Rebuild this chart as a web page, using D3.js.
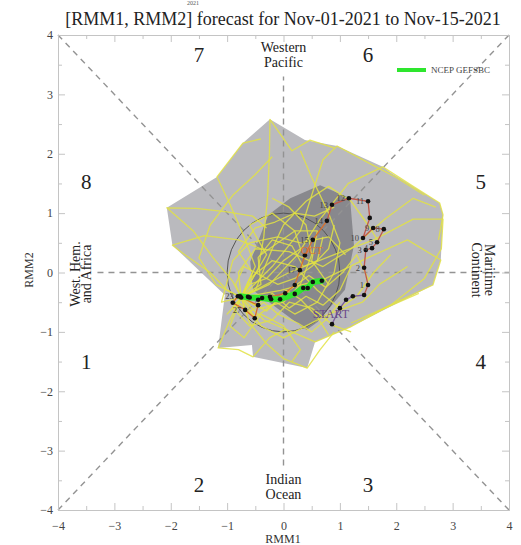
<!DOCTYPE html>
<html>
<head>
<meta charset="utf-8">
<script src="https://cdn.jsdelivr.net/npm/d3@7"></script>
<style>
body { margin: 0; background: #fff; }
text { font-family: "Liberation Serif", "DejaVu Serif", serif; }
.axis path, .axis line { stroke: #c4c4c4; }
.axis text { fill: #444; font-size: 12px; font-family: "Liberation Serif", serif; }
</style>
</head>
<body>
<div id="chart"></div>
<script>
"use strict";

/* tick values */
var majorTicks = [-4, -3, -2, -1, 0, 1, 2, 3, 4];
var minorTicks = [-3.5, -2.5, -1.5, -0.5, 0.5, 1.5, 2.5, 3.5];

/* phase numbers and where they sit */
var phaseNames = ["1", "2", "3", "4", "5", "6", "7", "8"];
var phaseSpots = [[-3.5, -1.5], [-1.5, -3.58], [1.5, -3.58], [3.5, -1.5],
                  [3.5, 1.52], [1.5, 3.66], [-1.5, 3.66], [-3.5, 1.52]];

/* shaded spread of the ensemble (outer and inner) */
var outerSpread = [[-0.24, 2.58], [0.38, 2.23], [0.95, 2.13], [1.76, 1.78], [1.89, 1.69],
                   [2.77, 1.17], [2.83, 0.97], [2.79, 0.21], [2.65, -0.21], [1.18, -0.92],
                   [0.56, -1.17], [0.42, -1.61], [-0.54, -1.42], [-0.56, -1.22], [-1.16, -1.27],
                   [-1.04, -0.38], [-1.97, 0.46], [-2.07, 1.09], [-1.18, 1.61], [-0.72, 2.18]];
var innerSpread = [[0.65, 1.47], [1.18, 1.25], [1.25, 0.46], [1.09, -0.29], [0.61, -0.83],
                   [0.41, -0.97], [-0.54, -0.30], [-0.59, 0.18], [-0.27, 0.97], [0.12, 1.25]];

/* ensemble members */
var members = [
  [[-0.75,-0.42],[-0.9,-0.15],[-1.25,0.25],[-1.6,0.7],[-2.07,1.09],[-1.55,1.08],[-1.0,1.02],[-0.55,0.95],[-0.3,0.75]],
  [[-0.75,-0.42],[-0.45,0.05],[-0.35,0.6],[-0.28,1.3],[-0.25,2.0],[-0.24,2.58],[0.15,2.05],[0.47,2.23],[0.9,2.1]],
  [[-0.75,-0.42],[-0.25,-0.2],[0.25,0.3],[0.65,0.9],[1.15,1.5],[1.76,1.78],[2.3,1.45],[2.77,1.17],[2.83,0.97],[2.75,0.55]],
  [[-0.75,-0.42],[-0.05,-0.3],[0.75,-0.1],[1.5,0.25],[2.2,0.55],[2.79,0.21],[2.65,-0.21],[2.0,-0.5],[1.5,-0.75]],
  [[-0.75,-0.42],[-0.35,-0.8],[0.15,-1.0],[0.56,-1.17],[1.18,-0.92],[1.8,-0.6],[2.4,-0.35]],
  [[-0.75,-0.42],[-0.6,-0.85],[-0.3,-1.2],[0.0,-1.45],[0.42,-1.61],[0.65,-1.3],[0.9,-1.0]],
  [[-0.75,-0.42],[-0.95,-0.8],[-1.16,-1.27],[-0.8,-1.3],[-0.54,-1.42],[-0.25,-1.1],[0.05,-0.95]],
  [[-0.75,-0.42],[-1.0,-0.3],[-1.3,0.0],[-1.75,0.3],[-1.97,0.46],[-1.4,0.62],[-0.8,0.55],[-0.4,0.4]],
  [[-0.75,-0.42],[-0.5,0.1],[-0.7,0.6],[-0.95,1.15],[-1.18,1.61],[-0.72,2.18],[-0.4,2.25]],
  [[-0.75,-0.42],[-0.4,-0.6],[0.0,-0.5],[0.3,-0.2],[0.5,0.3],[0.4,0.8],[0.1,1.1],[-0.2,1.25]],
  [[-0.75,-0.42],[-0.6,-0.1],[-0.2,0.2],[0.2,0.1],[0.6,-0.3],[1.0,-0.6],[1.3,-0.4],[1.6,0.0],[1.9,0.3]],
  [[-0.75,-0.42],[-0.9,-0.6],[-0.6,-0.9],[-0.2,-0.8],[0.1,-0.5],[0.5,-0.6],[0.9,-0.9],[1.2,-1.0]],
  [[-0.75,-0.42],[-0.5,-0.3],[-0.2,0.4],[0.0,0.8],[0.4,1.2],[0.8,1.45],[1.2,1.2],[1.5,0.8],[1.7,0.5]],
  [[-0.75,-0.42],[-1.1,-0.5],[-0.9,0.2],[-0.6,0.5],[-0.1,0.6],[0.3,0.5],[0.8,0.6],[1.1,0.3]],
  [[-0.75,-0.42],[-0.3,-0.4],[0.2,-0.7],[0.6,-0.5],[0.9,0.0],[1.0,0.5],[0.8,1.0],[0.5,1.6],[0.3,2.05]],
  [[-0.75,-0.42],[-0.8,0.0],[-0.5,0.4],[0.1,0.35],[0.7,0.1],[1.2,0.4],[1.8,0.9],[2.3,1.25],[2.7,1.1]],
  [[-0.75,-0.42],[-0.4,-0.9],[0.0,-1.1],[0.4,-0.9],[0.8,-0.7],[1.4,-0.5],[1.7,-0.2],[2.2,0.1]],
  [[-0.75,-0.42],[-0.95,-0.9],[-0.7,-1.1],[-0.4,-0.7],[0.0,-0.9],[0.3,-1.3],[0.15,-1.5]],
  [[-0.75,-0.42],[-0.3,0.3],[-0.6,0.8],[-0.2,1.0],[0.2,0.7],[0.6,0.7],[0.5,0.2],[0.8,-0.2]],
  [[-0.75,-0.42],[-1.2,-0.2],[-1.5,0.25],[-1.3,0.8],[-0.9,1.3],[-0.5,1.65],[-0.2,1.95]],
  [[-0.75,-0.42],[-0.2,0.1],[0.3,0.7],[0.5,1.3],[0.7,1.9],[0.95,2.13],[1.5,1.85],[2.0,1.6],[2.5,1.3]],
  [[-0.75,-0.42],[0.1,0.0],[0.9,0.3],[1.6,0.55],[2.3,0.9],[2.83,0.9],[2.8,0.4],[2.5,-0.1],[1.9,-0.55],[1.2,-0.85]],
  [[-0.75,-0.42],[-0.6,-0.2],[-0.3,-0.1],[0.0,0.2],[0.3,0.4],[0.2,0.7],[-0.1,0.5],[-0.4,0.3]],
  [[-0.75,-0.42],[-0.5,-0.55],[-0.2,-0.35],[0.1,-0.6],[0.4,-0.4],[0.7,-0.55],[1.0,-0.3],[1.2,0.1]],
  [[-0.75,-0.42],[-0.85,-0.2],[-0.7,0.1],[-0.4,-0.05],[-0.1,-0.2],[0.2,-0.1],[0.5,0.1],[0.8,0.4],[0.9,0.8]],
  [[-0.75,-0.42],[-0.65,-0.7],[-0.35,-0.5],[-0.1,-0.7],[0.25,-0.85],[0.5,-1.0],[0.75,-0.8],[1.0,-0.5]],
  [[-0.75,-0.42],[-0.4,-0.2],[-0.45,0.25],[-0.2,0.55],[0.15,0.45],[0.35,0.1],[0.6,0.2],[0.7,0.6]],
  [[-0.75,-0.42],[-1.0,-0.7],[-0.8,-0.5],[-0.5,-0.75],[-0.2,-0.55],[0.05,-0.3],[0.3,-0.45],[0.6,-0.75],[0.8,-1.05]],
  [[-0.75,-0.42],[-0.55,0.0],[-0.8,0.35],[-0.5,0.75],[-0.15,0.85],[0.2,1.0],[0.55,0.95],[0.9,1.1]],
  [[-0.75,-0.42],[-0.3,-0.65],[0.1,-0.3],[0.45,-0.05],[0.75,-0.25],[1.05,0.0],[1.3,0.3],[1.5,-0.1]]
];

/* ensemble mean forecast */
var meanPath = [[-0.77,-0.40],[-0.6,-0.42],[-0.38,-0.43],[-0.22,-0.45],[-0.06,-0.45],
                [0.20,-0.36],[0.35,-0.26],[0.43,-0.26],[0.52,-0.16],[0.68,-0.14]];

/* observed path, three pieces */
var obsStart = [[0.86,-0.87],[1.0,-0.6],[1.11,-0.46],[1.23,-0.40],[1.43,-0.38]];
var obsLoop = [[1.43,-0.38],[1.50,-0.21],[1.43,0.08],[1.46,0.38],[1.57,0.41],[1.66,0.51],
               [1.78,0.73],[1.59,0.75],[1.41,0.58],[1.53,0.92],[1.50,1.20],[1.16,1.25],
               [0.86,1.14],[0.77,0.87]];
var obsEnd = [[0.77,0.87],[0.52,0.55],[0.38,0.29],[0.29,0.04],[0.20,-0.21],[0.03,-0.35],
              [-0.24,-0.41],[-0.45,-0.46],[-0.63,-0.41],[-0.81,-0.40],[-0.90,-0.51],
              [-0.68,-0.63],[-0.51,-0.77],[-0.45,-0.55],[-0.75,-0.42]];
var loopDays = ["", "1", "2", "3", "4", "5", "8", "9", "10", "", "11", "12", "13", "14"];
var endDays = ["", "15", "", "17", "", "", "", "", "", "23", "", "27", "", "", ""];

var svg_dx = 521,
    svg_dy = 545;

var x = d3.scaleLinear().domain([-4, 4]).range([58, 509]),
    y = d3.scaleLinear().domain([-4, 4]).range([510, 35]);

var svg = d3.select("#chart")
        .append("svg")
        .attr("width", svg_dx)
        .attr("height", svg_dy);

var line = d3.line().x(d => x(d[0])).y(d => y(d[1]));

// shaded spread
svg.append("path").attr("d", line(outerSpread) + "Z").attr("fill", "#bababe");
svg.append("path").attr("d", line(innerSpread) + "Z").attr("fill", "#88888d");

// phase dividers
var dash = svg.append("g").attr("stroke", "#939393").attr("stroke-width", 1.4)
        .attr("stroke-dasharray", "6,5").attr("fill", "none");
dash.append("path").attr("d", line([[-4, -4], [4, 4]]));
dash.append("path").attr("d", line([[-4, 4], [4, -4]]));
dash.append("path").attr("d", line([[0, -3.25], [0, 3.3]]));
dash.append("path").attr("d", line([[-3.3, 0], [4, 0]]));

// unit circle
svg.append("ellipse")
    .attr("cx", x(0)).attr("cy", y(0))
    .attr("rx", x(1) - x(0)).attr("ry", y(0) - y(1))
    .attr("fill", "none").attr("stroke", "#555").attr("stroke-width", 1);

// ensemble members
svg.append("g").selectAll("path")
    .data(members)
    .enter()
    .append("path")
    .attr("d", line)
    .attr("fill", "none")
    .attr("stroke", "#e2e244")
    .attr("stroke-width", 1.3)
    .attr("stroke-linejoin", "round")
    .attr("opacity", 0.85);

// observed path
svg.append("path").attr("d", line(obsStart)).attr("fill", "none").attr("stroke", "#7d5f9c").attr("stroke-width", 1.3);
svg.append("path").attr("d", line(obsLoop)).attr("fill", "none").attr("stroke", "#c0584a").attr("stroke-width", 1.3);
svg.append("path").attr("d", line(obsEnd)).attr("fill", "none").attr("stroke", "#d8702c").attr("stroke-width", 1.3);

// ensemble mean
svg.append("path")
    .attr("d", line(meanPath))
    .attr("fill", "none")
    .attr("stroke", "#2ee62e")
    .attr("stroke-width", 6)
    .attr("stroke-linecap", "round");

var allObs = obsStart.concat(obsLoop.slice(1), obsEnd.slice(1));
svg.append("g").selectAll("circle")
    .data(allObs.concat(meanPath))
    .enter()
    .append("circle")
    .attr("r", 2.3)
    .attr("cx", d => x(d[0]))
    .attr("cy", d => y(d[1]))
    .attr("fill", "#111");

// day numbers
var dayLabels = obsLoop.map((d, i) => [d, loopDays[i]])
        .concat(obsEnd.map((d, i) => [d, endDays[i]]))
        .filter(d => d[1] !== "");
svg.append("g").selectAll("text")
    .data(dayLabels)
    .enter()
    .append("text")
    .attr("x", d => x(d[0][0]) - 4)
    .attr("y", d => y(d[0][1]) + 3)
    .attr("text-anchor", "end")
    .attr("font-size", 8.5)
    .attr("fill", "#444")
    .text(d => d[1]);

svg.append("text").attr("x", x(0.84)).attr("y", y(-0.76))
    .attr("text-anchor", "middle").attr("font-size", 12).attr("fill", "#6a4a8a").text("START");
svg.append("text").attr("x", x(0.5)).attr("y", y(0.32))
    .attr("text-anchor", "middle").attr("font-size", 11).attr("fill", "#e0702c").text("OCT");

// frame with inward ticks
function frame(axis, tr, vals, size, labels) {
    var g = svg.append("g").attr("class", "axis").attr("transform", tr)
        .call(axis.tickValues(vals).tickSizeInner(-size).tickSizeOuter(0)
            .tickPadding(labels ? 5 : 0).tickFormat(labels ? d3.format("d") : ""));
    return g;
}
frame(d3.axisBottom(x), "translate(0,510)", majorTicks, 7, true).selectAll("text").attr("dy", "1.25em");
frame(d3.axisBottom(x), "translate(0,510)", minorTicks, 4, false);
frame(d3.axisLeft(y), "translate(58,0)", majorTicks, 7, true);
frame(d3.axisLeft(y), "translate(58,0)", minorTicks, 4, false);
frame(d3.axisTop(x), "translate(0,35)", majorTicks, 7, false);
frame(d3.axisTop(x), "translate(0,35)", minorTicks, 4, false);
frame(d3.axisRight(y), "translate(509,0)", majorTicks, 7, false);
frame(d3.axisRight(y), "translate(509,0)", minorTicks, 4, false);

// phase numbers
svg.append("g").selectAll("text")
    .data(phaseNames)
    .enter()
    .append("text")
    .attr("x", (d, i) => x(phaseSpots[i][0]))
    .attr("y", (d, i) => y(phaseSpots[i][1]) + 7)
    .attr("text-anchor", "middle")
    .attr("font-size", 21)
    .attr("fill", "#222")
    .text(d => d);

// region names
var reg = svg.append("g").attr("font-size", 14).attr("fill", "#222").attr("text-anchor", "middle");
reg.append("text").attr("x", x(0)).attr("y", 52).text("Western");
reg.append("text").attr("x", x(0)).attr("y", 67).text("Pacific");
reg.append("text").attr("x", x(0)).attr("y", 484).text("Indian");
reg.append("text").attr("x", x(0)).attr("y", 499).text("Ocean");
reg.append("text").attr("transform", "translate(80,274) rotate(-90)").text("West. Hem.");
reg.append("text").attr("transform", "translate(91,274) rotate(-90)").text("and Africa");
reg.append("text").attr("transform", "translate(485,270) rotate(90)").text("Maritime");
reg.append("text").attr("transform", "translate(472,270) rotate(90)").text("Continent");

// legend
svg.append("line").attr("x1", 397).attr("x2", 426).attr("y1", 70).attr("y2", 70)
    .attr("stroke", "#2ee62e").attr("stroke-width", 4);
svg.append("text").attr("x", 431).attr("y", 73).attr("font-size", 9).attr("fill", "#444").text("NCEP GEFSBC");

// titles
svg.append("text").attr("x", 283).attr("y", 25).attr("text-anchor", "middle")
    .attr("font-size", 18).attr("fill", "#222")
    .text("[RMM1, RMM2] forecast for Nov-01-2021 to Nov-15-2021");
svg.append("text").attr("x", 193).attr("y", 5).attr("text-anchor", "middle")
    .attr("font-size", 6).attr("fill", "#555").text("2021");
svg.append("text").attr("x", 283).attr("y", 543).attr("text-anchor", "middle")
    .attr("font-size", 12).attr("fill", "#333").text("RMM1");
svg.append("text").attr("transform", "translate(33,270) rotate(-90)").attr("text-anchor", "middle")
    .attr("font-size", 12).attr("fill", "#333").text("RMM2");
</script>
</body>
</html>
